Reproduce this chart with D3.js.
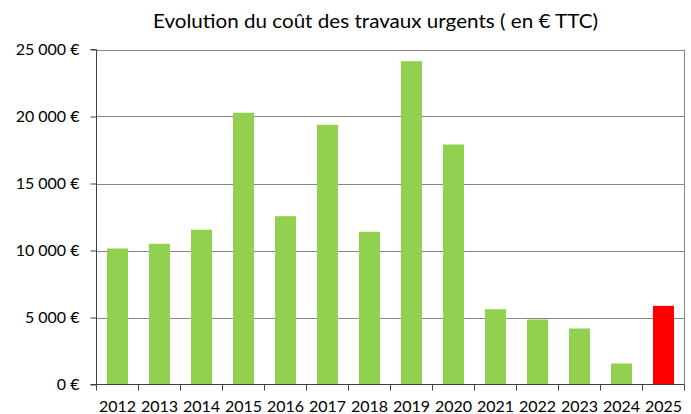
<!DOCTYPE html>
<html><head><meta charset="utf-8">
<script src="https://cdn.jsdelivr.net/npm/d3@7"></script>
<style>body{margin:0;background:#fff}svg{display:block}</style>
</head><body>
<svg id="c" width="691" height="414"></svg>
<script>
const years = ["2012","2013","2014","2015","2016","2017","2018","2019","2020","2021","2022","2023","2024","2025"];
const costs = [10150,10500,11550,20280,12560,19380,11400,24130,17910,5620,4850,4180,1570,5870];
const yTicks = [0,5000,10000,15000,20000,25000];
const barColors = ["#92D050","#92D050","#92D050","#92D050","#92D050","#92D050","#92D050","#92D050","#92D050","#92D050","#92D050","#92D050","#92D050","#FF0000"];
const title = "Evolution du coût des travaux urgents ( en € TTC)";

const svg = d3.select("#c");
const m = {l:96.5, r:684.5, t:49.5, b:384.5};
const x = d3.scaleBand().domain(years).range([m.l, m.r]).paddingInner(0.5).paddingOuter(0.25);
const y = d3.scaleLinear().domain([0,25000]).range([m.b, m.t]);
const font = "Lato, 'Open Sans', sans-serif";
const fmt = v => (v===0 ? "0" : d3.format(",")(v).replace(/,/g," ")) + " €";

// gridlines
svg.append("g").selectAll("line").data(yTicks.filter(d=>d>0)).join("line")
  .attr("x1", m.l).attr("x2", m.r).attr("y1", d=>Math.round(y(d))+0.5).attr("y2", d=>Math.round(y(d))+0.5)
  .attr("stroke","#868686").attr("stroke-width",1);

// right border
svg.append("line").attr("x1",m.r).attr("x2",m.r).attr("y1",m.t).attr("y2",m.b).attr("stroke","#868686");

// bars
svg.append("g").selectAll("rect").data(costs).join("rect")
  .attr("x",(d,i)=>x(years[i])).attr("width",x.bandwidth())
  .attr("y",d=>y(d)).attr("height",d=>y(0)-y(d))
  .attr("fill",(d,i)=>barColors[i]);

// y axis
const ya = svg.append("g").attr("transform",`translate(${m.l},0)`)
  .call(d3.axisLeft(y).tickValues(yTicks).tickFormat(fmt).tickSize(6).tickPadding(11));
ya.select(".domain").attr("stroke","#404040").attr("d",`M-6,${m.t}H0V${m.b}H-6`);
ya.selectAll(".tick line").attr("stroke","#404040");
ya.selectAll("text").attr("font-family",font).attr("font-size",16).attr("fill","#000");

// x axis
const xa = svg.append("g").attr("transform",`translate(0,${m.b})`)
  .call(d3.axisBottom(x).tickSize(0));
xa.select(".domain").attr("stroke","#404040").attr("d",`M${m.l},0H${m.r}`);
xa.append("g").selectAll("line").data(d3.range(years.length+1)).join("line")
  .attr("x1",i=>m.l+i*(m.r-m.l)/years.length).attr("x2",i=>m.l+i*(m.r-m.l)/years.length)
  .attr("y1",0).attr("y2",6).attr("stroke","#404040");
xa.selectAll(".tick text").attr("y",27).attr("dy",0)
  .attr("font-family",font).attr("font-size",16).attr("fill","#000");

// title
svg.append("text").attr("x",375.5).attr("y",28).attr("text-anchor","middle")
  .attr("font-family",font).attr("font-size",19).attr("fill","#000")
  .attr("textLength",445).attr("lengthAdjust","spacingAndGlyphs").text(title);
</script>
</body></html>
